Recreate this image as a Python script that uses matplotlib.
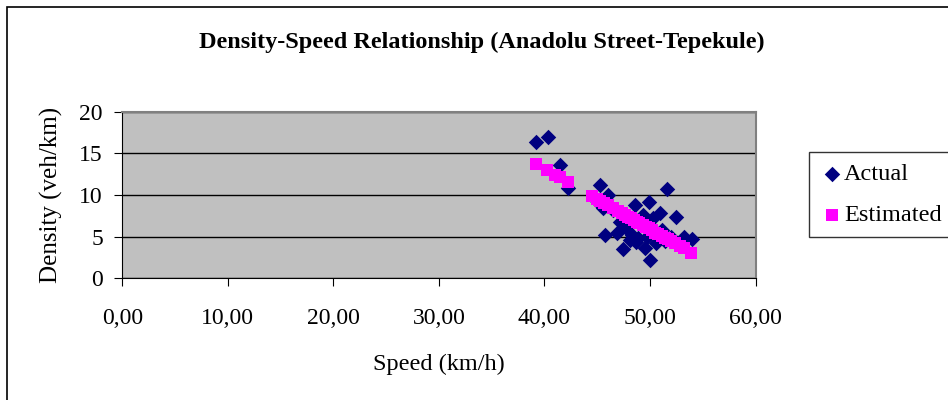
import matplotlib
matplotlib.use("Agg")
import matplotlib.pyplot as plt
from matplotlib.patches import Rectangle

plt.rcParams['font.family'] = ['Liberation Serif', 'DejaVu Serif']

# data
speed_actual = [39.2, 40.3, 41.5, 42.2, 44.9, 45.3, 45.5, 46.0, 45.7, 46.9, 47.4, 47.7,
                48.3, 48.9, 48.6, 49.9, 51.6, 50.9, 52.5, 49.5, 50.0, 49.7, 50.3, 51.1,
                52.0, 53.2, 54.0, 48.1, 48.7, 49.3, 50.6, 51.4, 46.5, 47.2, 52.8]
density_actual = [16.4, 16.9, 13.6, 10.8, 9.4, 11.2, 8.4, 10.0, 5.2, 5.4, 3.5, 6.0,
                  5.2, 4.8, 8.8, 9.2, 10.7, 7.8, 7.4, 3.6, 2.2, 5.0, 7.2, 5.8,
                  5.0, 5.0, 4.7, 4.6, 4.4, 7.6, 4.3, 4.5, 8.2, 6.8, 4.3]

speed_est = [39.2, 40.2, 41.0, 41.5, 42.2, 44.5, 45.0, 45.3, 45.6, 46.0, 46.5, 47.0,
             47.3, 47.6, 47.9, 48.2, 48.5, 48.8, 49.0, 49.3, 49.6, 49.9, 50.2, 50.5,
             50.8, 51.1, 51.4, 51.7, 52.0, 52.4, 52.8, 53.2, 53.9]
density_est = [13.7, 13.0, 12.4, 12.1, 11.5, 9.9, 9.5, 9.3, 9.1, 8.8, 8.4, 8.1,
               7.9, 7.6, 7.4, 7.2, 7.0, 6.8, 6.6, 6.4, 6.2, 6.0, 5.8, 5.5,
               5.3, 5.1, 4.9, 4.7, 4.5, 4.2, 3.9, 3.6, 3.0]

x_ticks = [0, 10, 20, 30, 40, 50, 60]
x_labels = ['0,00', '10,00', '20,00', '30,00', '40,00', '50,00', '60,00']
y_ticks = [0, 5, 10, 15, 20]

fig = plt.figure(figsize=(9.48, 4.0), dpi=100)
fig.patches.append(Rectangle((7/948, -0.1), 1.1, 0.9825 + 0.1, transform=fig.transFigure,
                             fill=False, edgecolor='black', linewidth=1.2))

ax = fig.add_axes([0.129, 0.304, 0.668, 0.417])
ax.set_facecolor('#C0C0C0')

ax.scatter(speed_actual, density_actual, marker='D', s=62, color='#000080',
           label='Actual', zorder=3, linewidths=0)
ax.scatter(speed_est, density_est, marker='s', s=66, color='#FF00FF',
           label='Estimated', zorder=4, linewidths=0)

ax.set_xlim(0, 60)
ax.set_ylim(0, 20)
ax.set_xticks(x_ticks)
ax.set_xticklabels(x_labels)
ax.set_yticks(y_ticks)
ax.yaxis.grid(True, color='black', linewidth=1)
ax.set_axisbelow(True)

for s in ['top', 'right']:
    ax.spines[s].set_color('#808080')
    ax.spines[s].set_linewidth(1.5)
for s in ['left', 'bottom']:
    ax.spines[s].set_color('black')

ax.tick_params(axis='x', direction='out', length=6, labelsize=17, pad=15)
ax.tick_params(axis='y', direction='out', length=6, labelsize=17, pad=8)

ax.set_xlabel('Speed (km/h)', fontsize=17.5, labelpad=18)
ax.set_ylabel('Density (veh/km)', fontsize=18, labelpad=12)

fig.text(0.508, 0.895, 'Density-Speed Relationship (Anadolu Street-Tepekule)',
         ha='center', va='center', fontsize=17.5, fontweight='bold')

leg = ax.legend(loc='upper left', bbox_to_anchor=(809/948, 1 - 152/400),
                bbox_transform=fig.transFigure, fontsize=17.5, frameon=True,
                fancybox=False, edgecolor='black', borderpad=0.45,
                handletextpad=0.0, handlelength=1.0, labelspacing=0.8,
                borderaxespad=0)
leg.get_frame().set_linewidth(1)

fig.savefig('out.png', dpi=100)
